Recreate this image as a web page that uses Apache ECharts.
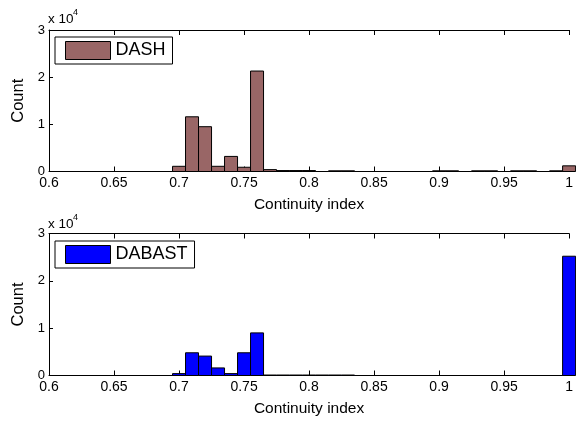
<!DOCTYPE html>
<html>
<head>
<meta charset="utf-8">
<script src="https://cdn.jsdelivr.net/npm/echarts@6/dist/echarts.min.js"></script>
<style>
  html, body { margin: 0; padding: 0; background: #fff; }
  #chart { width: 576px; height: 423px; }
</style>
</head>
<body>
<div id="chart"></div>
<script>
(function () {
  var myChart = echarts.init(document.getElementById('chart'));

  // histogram bin centres (bin width 0.01)
  var binCenters = [0.70, 0.71, 0.72, 0.73, 0.74, 0.75, 0.76, 0.77, 0.78, 0.79,
                    0.80, 0.81, 0.82, 0.83, 0.84, 0.85, 0.86, 0.87, 0.88, 0.89,
                    0.90, 0.91, 0.92, 0.93, 0.94, 0.95, 0.96, 0.97, 0.98, 0.99, 1.00];
  var dashCounts = [1100, 11600, 9500, 1100, 3200, 900, 21300, 400, 200, 200,
                    200, 0, 150, 150, 0, 0, 0, 0, 0, 0,
                    150, 150, 0, 150, 150, 0, 150, 150, 0, 150, 1200];
  var dabastCounts = [400, 4800, 4100, 1600, 400, 4800, 9000, 100, 100, 100,
                      100, 100, 100, 100, 0, 0, 0, 0, 0, 0,
                      0, 0, 0, 0, 0, 0, 0, 0, 0, 0, 25200];
  var xTicks = [0.6, 1.0, 0.05];
  var yTicks = [0, 30000, 10000];
  var binWidth = 0.01;

  var font = 'Liberation Sans, Arial, Helvetica, sans-serif';

  function pairs(vals) {
    return binCenters.map(function (c, i) { return [c, vals[i]]; });
  }

  function renderBar(params, api) {
    var c = api.value(0), v = api.value(1);
    if (!v) return;
    var p0 = api.coord([c - binWidth / 2, v]);
    var p1 = api.coord([c + binWidth / 2, 0]);
    return {
      type: 'rect',
      shape: { x: p0[0], y: p0[1], width: p1[0] - p0[0], height: p1[1] - p0[1] },
      style: { fill: api.visual('color'), stroke: '#000', lineWidth: 1 }
    };
  }

  function xAxes(gi) {
    return [{
      type: 'value', gridIndex: gi, position: 'bottom',
      min: xTicks[0], max: xTicks[1], interval: xTicks[2],
      axisLine: { show: true, lineStyle: { color: '#000', width: 1 } },
      axisTick: { show: true, inside: true, length: 5, lineStyle: { color: '#000' } },
      axisLabel: { margin: 5, fontSize: 14, color: '#000', fontFamily: font,
        formatter: function (v) { return String(+v.toFixed(2)); } },
      splitLine: { show: false },
      name: 'Continuity index', nameLocation: 'middle', nameGap: 25,
      nameTextStyle: { fontSize: 15.5, color: '#000', fontFamily: font }
    }, {
      type: 'value', gridIndex: gi, position: 'top',
      min: xTicks[0], max: xTicks[1], interval: xTicks[2],
      axisLine: { show: true, lineStyle: { color: '#000', width: 1 } },
      axisTick: { show: true, inside: true, length: 5, lineStyle: { color: '#000' } },
      axisLabel: { show: false },
      splitLine: { show: false }
    }];
  }

  function yAxis(gi) {
    return {
      type: 'value', gridIndex: gi,
      min: yTicks[0], max: yTicks[1], interval: yTicks[2],
      axisLine: { show: true, lineStyle: { color: '#000', width: 1 } },
      axisTick: { show: true, inside: true, length: 4, lineStyle: { color: '#000' } },
      axisLabel: { margin: 4, fontSize: 13, color: '#000', fontFamily: font,
        formatter: function (v) { return v / 10000; } },
      splitLine: { show: false },
      name: 'Count', nameLocation: 'middle', nameGap: 20,
      nameTextStyle: { fontSize: 16.5, color: '#000', fontFamily: font }
    };
  }

  function legend(name, top) {
    return {
      data: [name], left: 55, top: top, icon: 'rect',
      itemWidth: 45, itemHeight: 18, padding: [4, 7, 4, 10],
      backgroundColor: '#fff', borderColor: '#000', borderWidth: 1, borderRadius: 0,
      selectedMode: false,
      itemStyle: { borderColor: '#000', borderWidth: 1 },
      textStyle: { fontSize: 18, color: '#000', fontFamily: font }
    };
  }

  function exponent(top) {
    return [{
      type: 'text', left: 48, top: top,
      style: { text: 'x 10', fontSize: 13.5, fontFamily: font, fill: '#000' }
    }, {
      type: 'text', left: 73, top: top - 4,
      style: { text: '4', fontSize: 9, fontFamily: font, fill: '#000' }
    }];
  }

  var option = {
    animation: false,
    backgroundColor: '#fff',
    grid: [
      { left: 49, top: 30, width: 521.6, height: 141.5 },
      { left: 49, top: 233.5, width: 521.6, height: 142 }
    ],
    xAxis: xAxes(0).concat(xAxes(1)),
    yAxis: [yAxis(0), yAxis(1)],
    legend: [legend('DASH', 37), legend('DABAST', 241)],
    graphic: exponent(12).concat(exponent(217)),
    series: [{
      name: 'DASH', type: 'custom', xAxisIndex: 0, yAxisIndex: 0,
      clip: false, renderItem: renderBar,
      itemStyle: { color: '#996666' },
      encode: { x: 0, y: 1 },
      data: pairs(dashCounts)
    }, {
      name: 'DABAST', type: 'custom', xAxisIndex: 2, yAxisIndex: 1,
      clip: false, renderItem: renderBar,
      itemStyle: { color: '#0000ff' },
      encode: { x: 0, y: 1 },
      data: pairs(dabastCounts)
    }]
  };
  myChart.setOption(option);
  window.addEventListener('resize', function () {
    myChart.resize();
  });
})();
</script>
</body>
</html>
